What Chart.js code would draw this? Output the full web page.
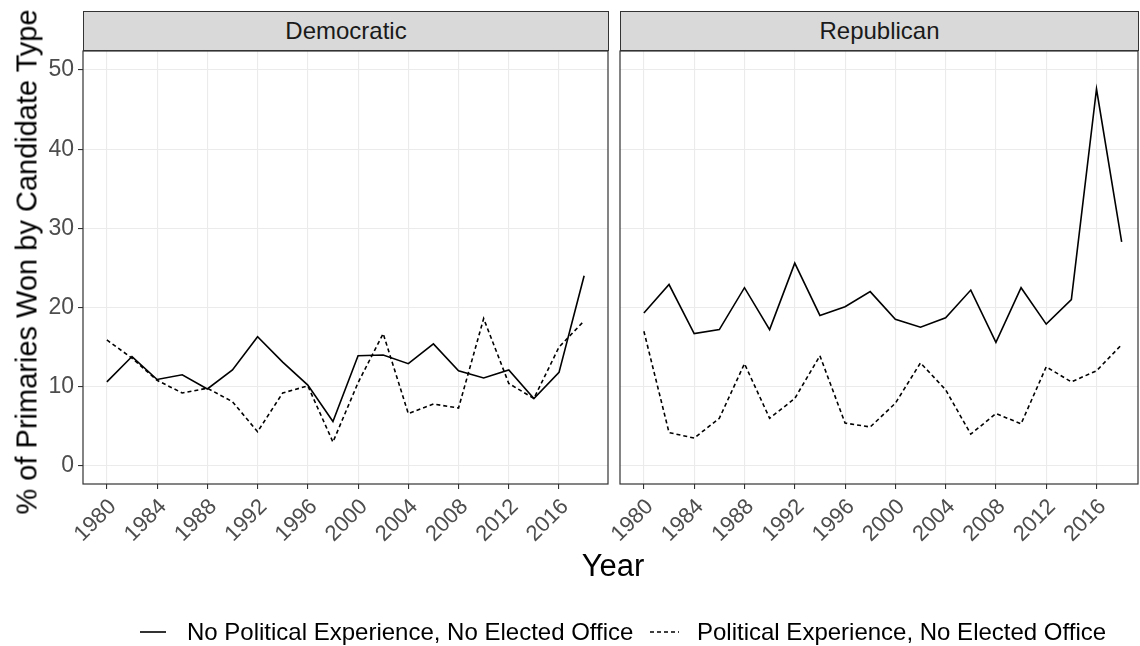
<!DOCTYPE html>
<html>
<head>
<meta charset="utf-8">
<script src="https://cdn.jsdelivr.net/npm/chart.js@4"></script>
<style>
  html, body { margin: 0; padding: 0; background: #fff; }
  body { width: 1140px; height: 646px; position: relative; overflow: hidden;
         font-family: "Liberation Sans", Arial, Helvetica, sans-serif; }
  canvas { position: absolute; top: 0; }
  .strip { position: absolute; top: 11px; height: 40px; box-sizing: border-box;
           background: #D9D9D9; border: 1px solid #333; color: #1A1A1A;
           font-size: 24px; text-align: center; line-height: 37px; }
  .ytitle { position: absolute; left: 27px; top: 262px; transform: translate(-50%, -50%) rotate(-90deg);
            white-space: nowrap; font-size: 29px; color: #000; }
  .xtitle { position: absolute; left: 613px; top: 566px; transform: translate(-50%, -50%);
            font-size: 31px; color: #000; }
  .legend { position: absolute; top: 632px; transform: translateY(-50%); font-size: 24px; color: #000;
            white-space: nowrap; }
  .key { position: absolute; top: 630px; }
</style>
</head>
<body>
<canvas id="dem"></canvas>
<canvas id="rep"></canvas>

<div class="strip" style="left:83px; width:526px;">Democratic</div>
<div class="strip" style="left:620px; width:519px;">Republican</div>

<div class="ytitle">% of Primaries Won by Candidate Type</div>
<div class="xtitle">Year</div>

<svg class="key" style="left:140px" width="26" height="4"><line x1="0" y1="2" x2="26" y2="2" stroke="#000" stroke-width="1.6"/></svg>
<div class="legend" style="left:187px;">No Political Experience, No Elected Office</div>
<svg class="key" style="left:650px" width="29" height="4"><line x1="0" y1="2" x2="29" y2="2" stroke="#000" stroke-width="1.6" stroke-dasharray="4 3"/></svg>
<div class="legend" style="left:697px;">Political Experience, No Elected Office</div>

<script>
// Election years and share of primaries won (%) by candidate type
const years = [1980, 1982, 1984, 1986, 1988, 1990, 1992, 1994, 1996, 1998,
               2000, 2002, 2004, 2006, 2008, 2010, 2012, 2014, 2016, 2018];

const demNoExperience  = [10.6, 13.8, 10.9, 11.5, 9.7, 12.1, 16.3, 13.1, 10.2, 5.6,
                          13.9, 14.0, 12.9, 15.4, 12.0, 11.1, 12.1, 8.5, 11.8, 24.0];
const demPolExperience = [15.9, 13.6, 10.8, 9.2, 9.8, 8.1, 4.3, 9.2, 10.1, 3.0,
                          10.5, 16.7, 6.6, 7.8, 7.3, 18.6, 10.4, 8.5, 15.0, 18.3];

const repNoExperience  = [19.3, 22.9, 16.7, 17.2, 22.5, 17.2, 25.6, 19.0, 20.1, 22.0,
                          18.5, 17.5, 18.7, 22.2, 15.6, 22.5, 17.9, 21.0, 47.6, 28.3];
const repPolExperience = [17.0, 4.2, 3.5, 6.0, 12.9, 6.0, 8.5, 13.9, 5.4, 4.9,
                          7.9, 13.0, 9.6, 4.0, 6.6, 5.3, 12.5, 10.6, 12.0, 15.3];

const seriesNames = ['No Political Experience, No Elected Office',
                     'Political Experience, No Elected Office'];

const xTicks = [1980, 1984, 1988, 1992, 1996, 2000, 2004, 2008, 2012, 2016];
const yTicks = [0, 10, 20, 30, 40, 50];

const FONT = '"Liberation Sans", Arial, Helvetica, sans-serif';
const GRID = '#EBEBEB';
const DARK = '#333333';

// Panel border drawn on all four sides, above the lines
const panelBorder = {
  id: 'panelBorder',
  afterDraw(chart) {
    const a = chart.chartArea, ctx = chart.ctx;
    ctx.save();
    ctx.strokeStyle = DARK;
    ctx.lineWidth = 1.2;
    ctx.strokeRect(a.left, a.top, a.right - a.left, a.bottom - a.top);
    ctx.restore();
  }
};

function toPoints(values) {
  return values.map((v, i) => ({ x: years[i], y: v }));
}

function makePanel(id, left, width, padRight, yWidth, showYLabels, solid, dashed, xMax) {
  const canvas = document.getElementById(id);
  canvas.style.left = left + 'px';
  canvas.width = width;
  canvas.height = 646;
  canvas.style.width = width + 'px';
  canvas.style.height = '646px';

  return new Chart(canvas, {
    type: 'line',
    data: {
      datasets: [
        { label: seriesNames[0], data: toPoints(solid), borderColor: '#000',
          borderWidth: 1.6, pointRadius: 0, tension: 0, fill: false },
        { label: seriesNames[1], data: toPoints(dashed), borderColor: '#000',
          borderWidth: 1.6, borderDash: [4, 3], pointRadius: 0, tension: 0, fill: false }
      ]
    },
    options: {
      responsive: false,
      animation: false,
      events: [],
      layout: { padding: { top: 51, right: padRight, bottom: 0, left: 0 } },
      plugins: { legend: { display: false }, tooltip: { enabled: false } },
      scales: {
        x: {
          type: 'linear',
          min: 1978.1,
          max: xMax,
          afterBuildTicks(s) { s.ticks = xTicks.map(v => ({ value: v })); },
          afterFit(s) { s.height = 162; s.paddingLeft = 0; s.paddingRight = 0; },
          grid: { color: GRID, lineWidth: 1.1, tickColor: DARK, tickLength: 5, tickWidth: 1.1 },
          border: { display: false },
          ticks: {
            minRotation: 45, maxRotation: 45, padding: 5, labelOffset: 6,
            color: '#4D4D4D', font: { family: FONT, size: 22 },
            callback: v => String(v)
          }
        },
        y: {
          type: 'linear',
          min: -2.3,
          max: 52.4,
          afterBuildTicks(s) { s.ticks = yTicks.map(v => ({ value: v })); },
          afterFit(s) { s.width = yWidth; s.paddingTop = 0; s.paddingBottom = 0; },
          grid: { color: GRID, lineWidth: 1.1, tickColor: DARK, tickLength: 5, tickWidth: 1.1,
                  drawTicks: showYLabels },
          border: { display: false },
          ticks: {
            display: showYLabels, padding: 4,
            color: '#4D4D4D', font: { family: FONT, size: 23 }
          }
        }
      }
    },
    plugins: [panelBorder]
  });
}

makePanel('dem', 0, 612, 4, 83, true, demNoExperience, demPolExperience, 2019.9);
makePanel('rep', 540, 600, 2, 80, false, repNoExperience, repPolExperience, 2019.3);
</script>
</body>
</html>
